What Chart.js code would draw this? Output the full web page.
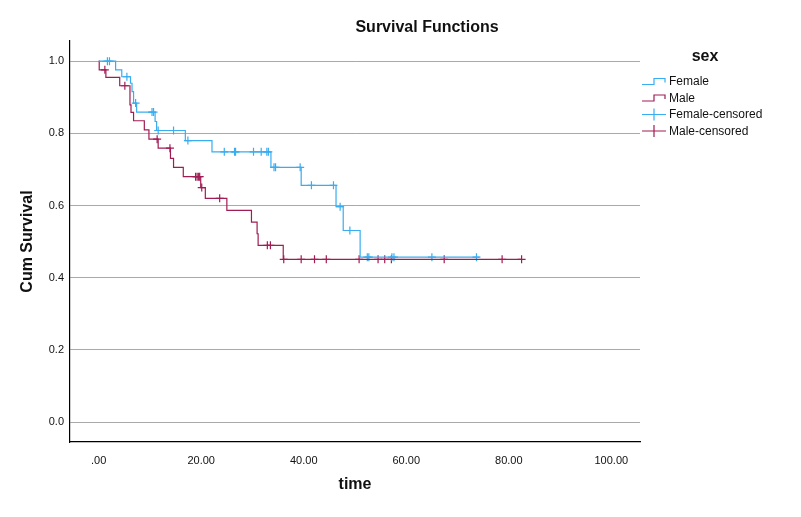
<!DOCTYPE html>
<html>
<head>
<meta charset="utf-8">
<title>Survival Functions</title>
<script src="https://cdn.jsdelivr.net/npm/chart.js@4/dist/chart.umd.min.js"></script>
<style>
  html, body { margin: 0; padding: 0; background: #fff; }
  #wrap { width: 801px; height: 517px; }
</style>
</head>
<body>
<div id="wrap"><canvas id="chart" width="801" height="517"></canvas></div>
<script>
/* ======================= DATA ======================= */
const xTicks = [0, 20, 40, 60, 80, 100];
const yTicks = [0, 0.2, 0.4, 0.6, 0.8, 1.0];

// step points: time where the curve drops, survival after the drop
const femaleTimes = [0, 3.3, 4.5, 6.2, 6.5, 6.8, 7.4, 11.0, 11.3, 16.9, 22.1, 33.6, 39.5, 46.3, 47.7, 51.0, 74.3];
const femaleSurv  = [1.0, 0.976, 0.957, 0.939, 0.916, 0.884, 0.859, 0.833, 0.808, 0.780, 0.749, 0.706, 0.656, 0.597, 0.531, 0.457, 0.457];

const maleTimes = [0, 0.1, 1.4, 4.1, 6.1, 6.3, 6.8, 8.9, 9.8, 11.6, 14.0, 14.6, 16.5, 19.9, 20.8, 25.0, 29.8, 30.9, 31.1, 36.0, 82.5];
const maleSurv  = [1.0, 0.976, 0.955, 0.932, 0.879, 0.858, 0.835, 0.810, 0.784, 0.759, 0.731, 0.706, 0.680, 0.650, 0.620, 0.587, 0.554, 0.522, 0.490, 0.451, 0.451];

const femaleCensTimes = [1.7, 2.1, 5.5, 7.2, 10.4, 10.7, 11.6, 14.6, 17.4, 24.5, 26.5, 26.7, 30.2, 31.7, 32.8, 33.1,
                         34.2, 34.5, 39.3, 41.5, 45.8, 47.1, 49.0, 52.4, 52.7, 57.2, 57.6, 65.0, 73.7];
const femaleCensSurv  = [1.0, 1.0, 0.957, 0.884, 0.859, 0.859, 0.808, 0.808, 0.780, 0.749, 0.749, 0.749, 0.749, 0.749, 0.749, 0.749,
                         0.706, 0.706, 0.706, 0.656, 0.656, 0.597, 0.531, 0.457, 0.457, 0.457, 0.457, 0.457, 0.457];

const maleCensTimes = [1.2, 5.1, 11.4, 13.9, 18.9, 19.2, 19.5, 19.7, 20.1, 23.6, 32.9, 33.5,
                       36.1, 39.5, 42.1, 44.4, 50.8, 54.5, 55.8, 57.1, 67.4, 78.7, 82.5];
const maleCensSurv  = [0.976, 0.932, 0.784, 0.759, 0.680, 0.680, 0.680, 0.680, 0.650, 0.620, 0.490, 0.490,
                       0.451, 0.451, 0.451, 0.451, 0.451, 0.451, 0.451, 0.451, 0.451, 0.451, 0.451];

/* ======================= STYLE ======================= */
const FEMALE = '#38adf0';
const MALE = '#a01c55';
const FONT = '"Liberation Sans", Arial, sans-serif';
const legendItems = [
  { label: 'Female', colour: FEMALE, kind: 'step' },
  { label: 'Male', colour: MALE, kind: 'step' },
  { label: 'Female-censored', colour: FEMALE, kind: 'cens' },
  { label: 'Male-censored', colour: MALE, kind: 'cens' }
];

const toPoints = (xs, ys) => xs.map((x, i) => ({ x, y: ys[i] }));

/* ============== TITLE + LEGEND (drawn on canvas) ============== */
const sideText = {
  id: 'sideText',
  afterDraw(chart) {
    const ctx = chart.ctx;
    ctx.save();
    ctx.fillStyle = '#111';
    ctx.textAlign = 'center';
    ctx.textBaseline = 'middle';
    ctx.font = `bold 16px ${FONT}`;
    ctx.fillText('Survival Functions', 427, 28);
    ctx.fillText('sex', 705, 57);

    ctx.font = `12px ${FONT}`;
    ctx.textAlign = 'left';
    legendItems.forEach((it, i) => {
      const y = 81.5 + i * 16.5;
      ctx.strokeStyle = it.colour;
      ctx.lineWidth = 1.2;
      ctx.beginPath();
      if (it.kind === 'step') {
        ctx.moveTo(642, y + 3);
        ctx.lineTo(654, y + 3);
        ctx.lineTo(654, y - 3);
        ctx.lineTo(665, y - 3);
        ctx.lineTo(665, y + 1);
      } else {
        ctx.moveTo(642, y);
        ctx.lineTo(666, y);
        ctx.moveTo(654, y - 6);
        ctx.lineTo(654, y + 6);
      }
      ctx.stroke();
      ctx.fillText(it.label, 669, y + 0.5);
    });
    ctx.restore();
  }
};

/* ======================= CHART ======================= */
new Chart(document.getElementById('chart'), {
  type: 'scatter',
  data: {
    datasets: [
      {
        label: 'Female',
        data: toPoints(femaleTimes, femaleSurv),
        showLine: true,
        stepped: 'before',
        borderColor: FEMALE,
        borderWidth: 1.2,
        pointRadius: 0
      },
      {
        label: 'Male',
        data: toPoints(maleTimes, maleSurv),
        showLine: true,
        stepped: 'before',
        borderColor: MALE,
        borderWidth: 1.2,
        pointRadius: 0
      },
      {
        label: 'Female-censored',
        data: toPoints(femaleCensTimes, femaleCensSurv),
        showLine: false,
        pointStyle: 'cross',
        pointRadius: 4,
        borderColor: FEMALE,
        pointBorderWidth: 1.2
      },
      {
        label: 'Male-censored',
        data: toPoints(maleCensTimes, maleCensSurv),
        showLine: false,
        pointStyle: 'cross',
        pointRadius: 4,
        borderColor: MALE,
        pointBorderWidth: 1.2
      }
    ]
  },
  options: {
    responsive: false,
    animation: false,
    layout: { padding: { top: 41, right: 161, left: 0, bottom: 0 } },
    plugins: {
      legend: { display: false },
      title: { display: false },
      tooltip: { enabled: false }
    },
    scales: {
      x: {
        type: 'linear',
        min: -5.6,
        max: 105.6,
        afterBuildTicks: s => { s.ticks = xTicks.map(v => ({ value: v })); },
        afterFit: s => { s.height = 75; },
        ticks: {
          padding: 12,
          color: '#111',
          font: { family: FONT, size: 11 },
          callback: v => v.toFixed(2).replace(/^0/, '')
        },
        grid: { color: 'rgba(0,0,0,0)', drawTicks: false },
        border: { display: true, color: '#000', width: 1.2 },
        title: {
          display: true,
          text: 'time',
          color: '#111',
          font: { family: FONT, size: 16, weight: 'bold' },
          padding: { top: 0, bottom: 23 }
        }
      },
      y: {
        min: -0.055,
        max: 1.056,
        afterBuildTicks: s => { s.ticks = yTicks.map(v => ({ value: v })); },
        afterFit: s => { s.width = 70; },
        ticks: {
          padding: 6,
          color: '#111',
          font: { family: FONT, size: 11 },
          callback: v => v.toFixed(1)
        },
        grid: { color: '#a9a9a9', lineWidth: 1, drawTicks: false },
        border: { display: true, color: '#000', width: 1.2 },
        title: {
          display: true,
          text: 'Cum Survival',
          color: '#111',
          font: { family: FONT, size: 16, weight: 'bold' },
          padding: { top: 18, bottom: 0 }
        }
      }
    }
  },
  plugins: [sideText]
});
</script>
</body>
</html>
